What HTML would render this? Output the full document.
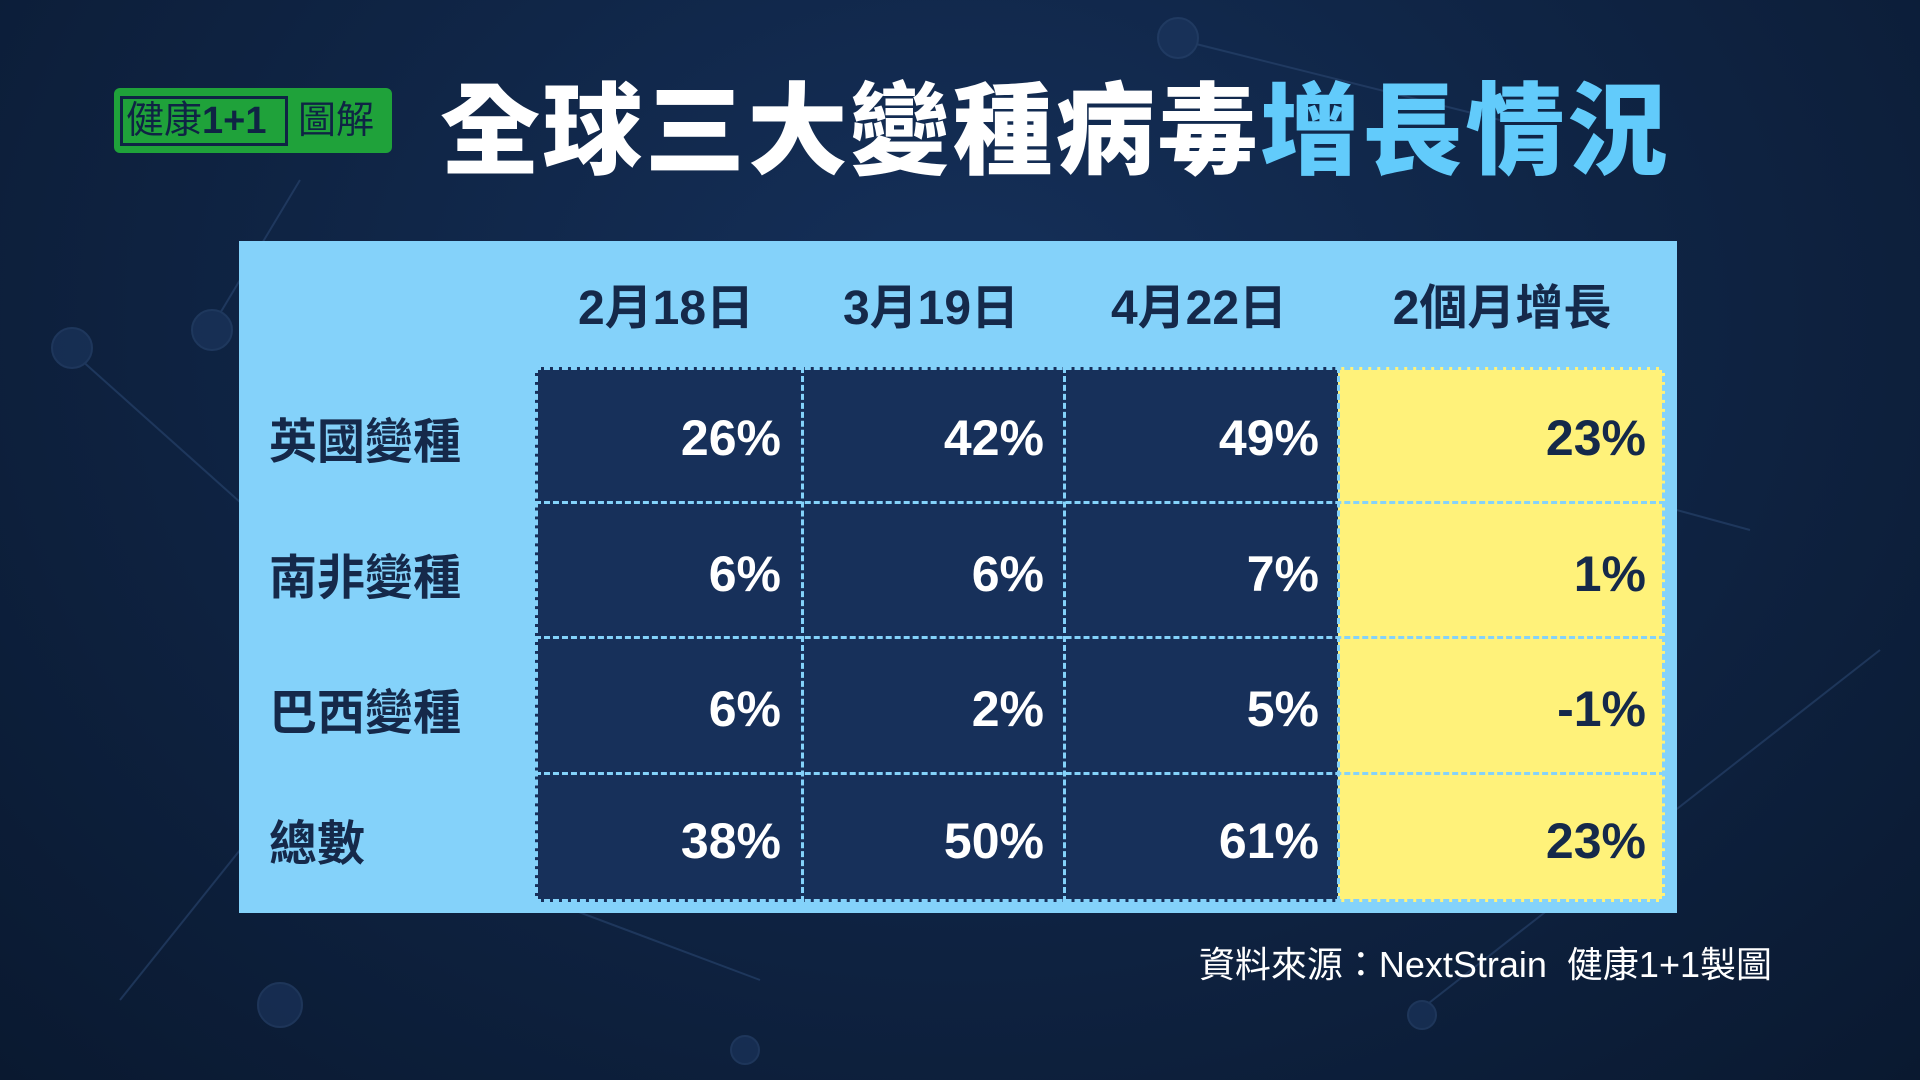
<!DOCTYPE html>
<html><head><meta charset="utf-8"><style>
body{margin:0;width:1920px;height:1080px;overflow:hidden;background:radial-gradient(ellipse at 50% 30%,#15305a 0%,#0f2444 50%,#0a1930 100%);font-family:"Liberation Sans","Noto Sans CJK TC",sans-serif;position:relative}
.a{position:absolute}
.t{font-weight:900;font-size:100px;top:82px;left:440px;color:#fff;letter-spacing:2.5px;white-space:nowrap;line-height:1}
.panel{left:239px;top:241px;width:1438px;height:672px;background:#84d2fa}
.dark{left:535px;top:367px;width:803px;height:535px;background:#17305a}
.yel{left:1338px;top:367px;width:327px;height:535px;background:#fff27a}
.hl{height:0;border-top:3px dashed #84d2fa}
.vl{width:0;border-left:3px dashed #84d2fa}
.h{font-weight:700;font-size:48px;color:#15294a;top:268px;transform:translateX(-50%);white-space:nowrap}
.r{font-weight:700;font-size:48px;color:#15294a;left:269px;white-space:nowrap}
.v{font-weight:700;font-size:50px;color:#fff;text-align:right;width:200px}
.y{color:#15294a}
</style></head><body>
<svg class="a" style="left:0;top:0" width="1920" height="1080" stroke="#2a4670" stroke-width="2" fill="#1d3760" opacity="0.6">
<line x1="70" y1="350" x2="260" y2="520"/><line x1="210" y1="330" x2="300" y2="180"/><line x1="120" y1="1000" x2="280" y2="800"/><line x1="280" y1="800" x2="760" y2="980"/><line x1="1180" y1="40" x2="1500" y2="120"/><line x1="1420" y1="1010" x2="1880" y2="650"/><line x1="1200" y1="380" x2="1750" y2="530"/>
<circle cx="72" cy="348" r="20"/><circle cx="212" cy="330" r="20"/><circle cx="280" cy="1005" r="22"/><circle cx="1178" cy="38" r="20"/><circle cx="1422" cy="1015" r="14"/><circle cx="745" cy="1050" r="14"/>
</svg>
<div class="a" style="left:114px;top:88px;width:278px;height:65px;background:#1fa23a;border-radius:6px"></div>
<div class="a" style="left:120px;top:96px;width:168px;height:50px;border:3px solid #0f2444;box-sizing:border-box;background:#1fa23a"></div>
<div class="a" style="left:126px;top:96px;font-size:38px;color:#0f2444;line-height:50px;white-space:nowrap">健康<b>1+1</b></div>
<div class="a" style="left:298px;top:96px;font-size:38px;color:#0f2444;line-height:50px">圖解</div>
<div class="t a">全球三大變種病毒<span style="color:#62cbfb">增長情況</span></div>
<div class="a panel"></div>
<div class="a dark"></div>
<div class="a yel"></div>
<div class="a" style="left:535px;top:367px;width:1130px;height:535px;border:3px dashed #84d2fa;box-sizing:border-box"></div>
<div class="a hl" style="left:535px;top:501px;width:1130px"></div>
<div class="a hl" style="left:535px;top:636px;width:1130px"></div>
<div class="a hl" style="left:535px;top:772px;width:1130px"></div>
<div class="a vl" style="left:801px;top:367px;height:535px"></div>
<div class="a vl" style="left:1063px;top:367px;height:535px"></div>
<div class="a vl" style="left:1337px;top:367px;height:535px"></div>
<div class="a h" style="left:666px">2月18日</div>
<div class="a h" style="left:931px">3月19日</div>
<div class="a h" style="left:1199px">4月22日</div>
<div class="a h" style="left:1502px">2個月增長</div>
<div class="a r" style="top:402px">英國變種</div>
<div class="a r" style="top:538px">南非變種</div>
<div class="a r" style="top:673px">巴西變種</div>
<div class="a r" style="top:804px">總數</div>
<div class="a v" style="left:581px;top:409px">26%</div><div class="a v" style="left:844px;top:409px">42%</div><div class="a v" style="left:1119px;top:409px">49%</div><div class="a v y" style="left:1446px;top:409px">23%</div>
<div class="a v" style="left:581px;top:545px">6%</div><div class="a v" style="left:844px;top:545px">6%</div><div class="a v" style="left:1119px;top:545px">7%</div><div class="a v y" style="left:1446px;top:545px">1%</div>
<div class="a v" style="left:581px;top:680px">6%</div><div class="a v" style="left:844px;top:680px">2%</div><div class="a v" style="left:1119px;top:680px">5%</div><div class="a v y" style="left:1446px;top:680px">-1%</div>
<div class="a v" style="left:581px;top:812px">38%</div><div class="a v" style="left:844px;top:812px">50%</div><div class="a v" style="left:1119px;top:812px">61%</div><div class="a v y" style="left:1446px;top:812px">23%</div>
<div class="a" style="right:148px;top:936px;font-size:36px;color:#fff;white-space:nowrap">資料來源：NextStrain&nbsp;&nbsp;健康1+1製圖</div>
</body></html>
